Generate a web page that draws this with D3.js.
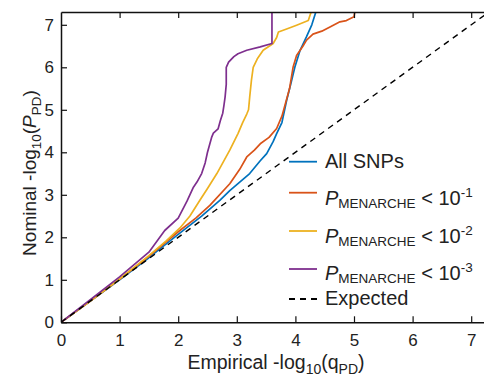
<!DOCTYPE html>
<html>
<head>
<meta charset="utf-8">
<script src="https://cdn.jsdelivr.net/npm/d3@7"></script>
<style>
  html, body { margin: 0; padding: 0; background: #fff; }
  svg { display: block; font-family: "Liberation Sans", Arial, Helvetica, sans-serif; }
</style>
</head>
<body>
<svg id="chart" width="484" height="381"></svg>
<script>
// ---- Data ----
const xTicks = [0, 1, 2, 3, 4, 5, 6, 7];
const yTicks = [0, 1, 2, 3, 4, 5, 6, 7];

// [empirical -log10(q), nominal -log10(P)]
const allSNPs = [
  [0,0],[0.5,0.5],[1,1.0],[1.5,1.52],[2,2.07],[2.4,2.5],[2.71,2.87],[2.88,3.1],
  [3.05,3.3],[3.22,3.5],[3.4,3.8],[3.51,3.97],[3.62,4.25],[3.68,4.44],[3.77,4.7],
  [3.85,5.22],[3.92,5.6],[3.99,6.0],[4.08,6.4],[4.19,6.72],[4.28,7.0],[4.36,7.35]
];
const menarche1 = [
  [0,0],[0.5,0.5],[1,1.01],[1.5,1.55],[2,2.13],[2.3,2.45],[2.54,2.75],[2.88,3.26],
  [3.05,3.6],[3.17,3.89],[3.3,4.05],[3.4,4.2],[3.55,4.35],[3.68,4.56],[3.77,4.85],
  [3.85,5.25],[3.9,5.5],[3.96,6.0],[4.02,6.28],[4.13,6.5],[4.19,6.64],[4.3,6.78],
  [4.45,6.85],[4.59,6.95],[4.76,7.07],[4.87,7.1],[5.0,7.19],[5.02,7.35]
];
const menarche2 = [
  [0,0],[0.5,0.5],[1,1.02],[1.5,1.57],[1.8,1.92],[2.03,2.22],[2.2,2.5],[2.37,2.87],
  [2.5,3.15],[2.66,3.5],[2.88,4.05],[3.02,4.44],[3.1,4.7],[3.17,4.9],[3.2,5.0],
  [3.22,5.3],[3.25,5.7],[3.28,6.0],[3.35,6.2],[3.45,6.4],[3.62,6.56],[3.68,6.7],
  [3.71,6.83],[3.85,6.9],[4.02,6.99],[4.22,7.1],[4.28,7.35]
];
const menarche3 = [
  [0,0],[0.5,0.53],[1,1.07],[1.5,1.65],[1.77,2.16],[2.0,2.45],[2.15,2.85],[2.26,3.18],
  [2.32,3.3],[2.4,3.5],[2.46,3.75],[2.5,4.0],[2.57,4.35],[2.6,4.45],[2.68,4.55],
  [2.72,4.75],[2.76,4.92],[2.78,5.1],[2.8,5.3],[2.82,5.6],[2.82,6.0],[2.86,6.12],
  [2.95,6.25],[3.02,6.32],[3.17,6.4],[3.4,6.48],[3.6,6.56],[3.6,7.35]
];
const expected = [[0,0],[7.3,7.3]];

const seriesNames = ["All SNPs", "P_MENARCHE < 10^-1", "P_MENARCHE < 10^-2", "P_MENARCHE < 10^-3", "Expected"];
const seriesColors = ["#0072BD", "#D95319", "#EDB120", "#7E2F8E", "#000000"];
const seriesExp = [null, "-1", "-2", "-3", null];

// ---- Layout ----
const svg = d3.select("#chart");
const left = 61, bottom = 322.3, unitX = 58.6, unitY = 42.5, maxV = 7.3;
const x = d3.scaleLinear().domain([0, maxV]).range([left, left + maxV * unitX]);
const y = d3.scaleLinear().domain([0, maxV]).range([bottom, bottom - maxV * unitY]);

svg.append("defs").append("clipPath").attr("id", "clip")
  .append("rect").attr("x", x(0)).attr("y", y(maxV)).attr("width", x(maxV) - x(0)).attr("height", y(0) - y(maxV));

const line = d3.line().x(d => x(d[0])).y(d => y(d[1]));
const plot = svg.append("g").attr("clip-path", "url(#clip)");
const curves = [allSNPs, menarche1, menarche2, menarche3];
curves.forEach((data, i) => {
  plot.append("path").datum(data).attr("d", line)
    .attr("fill", "none").attr("stroke", seriesColors[i]).attr("stroke-width", 1.7)
    .attr("stroke-linejoin", "round");
});
plot.append("path").datum(expected).attr("d", line)
  .attr("fill", "none").attr("stroke", "#000").attr("stroke-width", 1.4)
  .attr("stroke-dasharray", "6,5");

// ---- Axes ----
const xAxis = svg.append("g").attr("transform", `translate(0,${bottom})`)
  .call(d3.axisBottom(x).tickValues(xTicks).tickFormat(d3.format("d")).tickSizeInner(-6).tickSizeOuter(0).tickPadding(12));
const yAxis = svg.append("g").attr("transform", `translate(${left},0)`)
  .call(d3.axisLeft(y).tickValues(yTicks).tickFormat(d3.format("d")).tickSizeInner(-6).tickSizeOuter(0).tickPadding(7));
const xTop = svg.append("g").attr("transform", `translate(0,${y(maxV)})`)
  .call(d3.axisTop(x).tickValues(xTicks.filter(d => d > 0)).tickFormat("").tickSizeInner(-6).tickSizeOuter(0));
[xAxis, yAxis, xTop].forEach(g => {
  g.select(".domain").attr("stroke", "#111").attr("stroke-width", 1.5);
  g.selectAll(".tick line").attr("stroke", "#111").attr("stroke-width", 1.2);
  g.selectAll(".tick text").attr("fill", "#222").attr("font-size", 17).attr("font-family", "Liberation Sans, Arial, sans-serif");
});

// ---- Axis titles ----
const xt = svg.append("text").attr("x", 276).attr("y", 369).attr("text-anchor", "middle")
  .attr("font-size", 19.5).attr("fill", "#222");
xt.append("tspan").text("Empirical -log");
xt.append("tspan").attr("font-size", 14).attr("dy", 5).text("10");
xt.append("tspan").attr("dy", -5).text("(q");
xt.append("tspan").attr("font-size", 14).attr("dy", 5).text("PD");
xt.append("tspan").attr("dy", -5).text(")");

const yt = svg.append("text").attr("transform", "translate(36,173) rotate(-90)").attr("text-anchor", "middle")
  .attr("font-size", 19).attr("fill", "#222");
yt.append("tspan").text("Nominal -log");
yt.append("tspan").attr("font-size", 13.5).attr("dy", 5).text("10");
yt.append("tspan").attr("dy", -5).text("(");
yt.append("tspan").attr("font-style", "italic").text("P");
yt.append("tspan").attr("font-size", 13.5).attr("dy", 5).text("PD");
yt.append("tspan").attr("dy", -5).text(")");

// ---- Legend ----
const legLineY = [161.7, 192.7, 231, 269, 299];
const legTextY = [168.3, 205, 242.5, 280, 304.5];
const leg = svg.append("g");
seriesNames.forEach((name, i) => {
  leg.append("line").attr("x1", 289).attr("x2", 317).attr("y1", legLineY[i]).attr("y2", legLineY[i])
    .attr("stroke", seriesColors[i]).attr("stroke-width", 1.8)
    .attr("stroke-dasharray", i === 4 ? "6,5" : null);
  const t = leg.append("text").attr("x", 325).attr("y", legTextY[i]).attr("font-size", 20).attr("fill", "#222");
  if (seriesExp[i]) {
    t.append("tspan").attr("font-style", "italic").text("P");
    t.append("tspan").attr("font-size", 13.5).attr("dy", 3).text("MENARCHE");
    t.append("tspan").attr("dy", -3).text(" < 10");
    t.append("tspan").attr("font-size", 13.5).attr("dy", -8).text(seriesExp[i]);
  } else {
    t.text(name);
  }
});
</script>
</body>
</html>
